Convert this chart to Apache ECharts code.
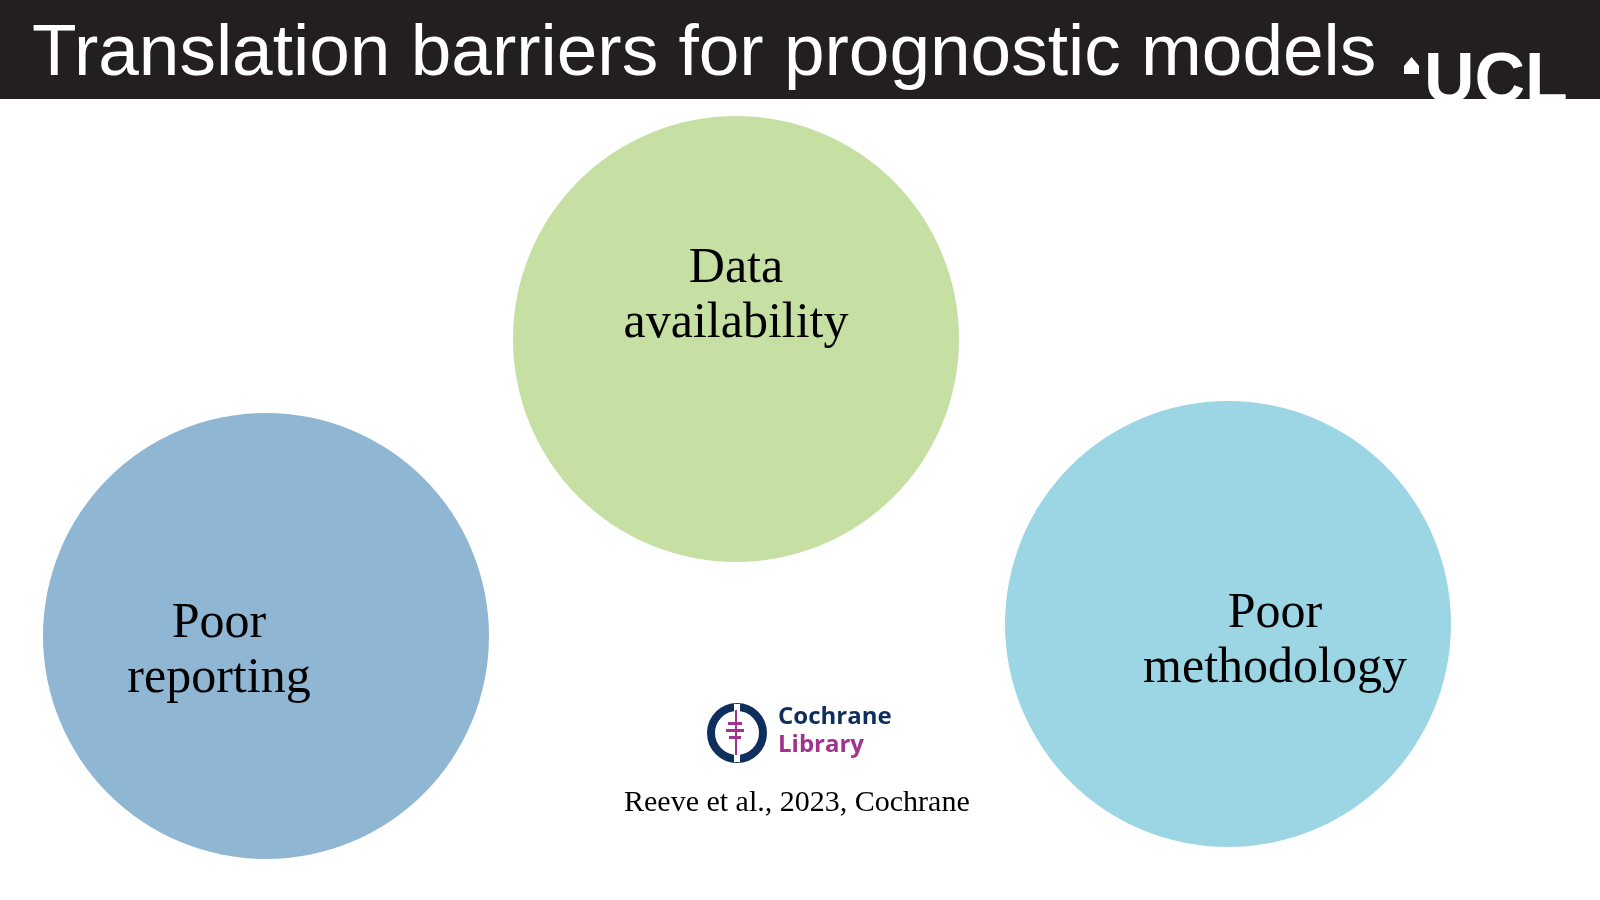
<!DOCTYPE html>
<html>
<head>
    <meta charset="utf-8">
    <title>Translation barriers</title>
    <style type="text/css">
        html, body { margin: 0; padding: 0; background: #fff; }
        #main { width: 1600px; height: 900px; }
    </style>
</head>
<body>
<div id="main"></div>
<script type="text/javascript" src="https://cdn.jsdelivr.net/npm/echarts@6/dist/echarts.min.js"></script>
<script type="text/javascript">
    // slide coordinates (px), y measured from top
    var labels = ['Data\navailability', 'Poor\nreporting', 'Poor\nmethodology'];
    var centerX = [736, 266, 1228];
    var centerY = [339, 636, 624];
    var diameters = [446, 446, 446];
    var colors = ['#C6E0A4', '#8FB7D4', '#9CD6E5'];
    var labelOffsets = [[0, -43], [-47, 15], [47, 17]];

    var myChart = echarts.init(document.getElementById('main'));

    var points = labels.map(function (l, i) {
        return {
            value: [centerX[i], centerY[i]],
            symbolSize: diameters[i],
            itemStyle: { color: colors[i], opacity: 1 },
            label: { offset: labelOffsets[i] }
        };
    });

    myChart.setOption({
        animation: false,
        grid: { left: 0, right: 0, top: 0, bottom: 0 },
        xAxis: { type: 'value', min: 0, max: 1600, show: false },
        yAxis: { type: 'value', min: 0, max: 900, inverse: true, show: false },
        series: [{
            type: 'scatter',
            symbol: 'circle',
            data: points,
            label: {
                show: true,
                position: 'inside',
                color: '#000',
                fontFamily: 'Liberation Serif',
                fontSize: 50,
                lineHeight: 55,
                align: 'center',
                formatter: function (p) { return labels[p.dataIndex]; }
            }
        }],
        graphic: [
            { type: 'rect', shape: { x: 0, y: 0, width: 1600, height: 99 }, style: { fill: '#231F20' } },
            { type: 'text', left: 32, top: 18, style: {
                text: 'Translation barriers for prognostic models',
                fill: '#fff', fontFamily: 'Liberation Sans', fontSize: 73 } },
            // UCL logo
            { type: 'text', left: 1424, top: 48, style: {
                text: 'UCL', fill: '#fff', fontFamily: 'Liberation Sans', fontWeight: 'bold', fontSize: 70 } },
            { type: 'rect', shape: { x: 1404, y: 66, width: 15, height: 8 }, style: { fill: '#fff' } },
            { type: 'polygon', shape: { points: [[1404, 66], [1411.5, 57], [1419, 66]] }, style: { fill: '#fff' } },
            // Cochrane logo
            { type: 'circle', shape: { cx: 737, cy: 733, r: 26 }, style: { fill: 'none', stroke: '#0E2F5E', lineWidth: 8 } },
            { type: 'rect', shape: { x: 734, y: 704, width: 6, height: 58 }, style: { fill: '#fff' } },
            { type: 'rect', shape: { x: 735, y: 710, width: 2, height: 45 }, style: { fill: '#A1338F' } },
            { type: 'rect', shape: { x: 728, y: 722, width: 14, height: 3 }, style: { fill: '#A1338F' } },
            { type: 'rect', shape: { x: 726, y: 729, width: 18, height: 3 }, style: { fill: '#A1338F' } },
            { type: 'rect', shape: { x: 729, y: 736, width: 12, height: 3 }, style: { fill: '#A1338F' } },
            { type: 'text', left: 778, top: 705, style: {
                text: 'Cochrane', fill: '#0E2F5E', fontFamily: 'Open Sans', fontWeight: 'bold', fontSize: 24 } },
            { type: 'text', left: 778, top: 733, style: {
                text: 'Library', fill: '#A1338F', fontFamily: 'Open Sans', fontWeight: 'bold', fontSize: 24 } },
            { type: 'text', left: 624, top: 788, style: {
                text: 'Reeve et al., 2023, Cochrane', fill: '#000', fontFamily: 'Liberation Serif', fontSize: 30 } }
        ]
    });
</script>
</body>
</html>
